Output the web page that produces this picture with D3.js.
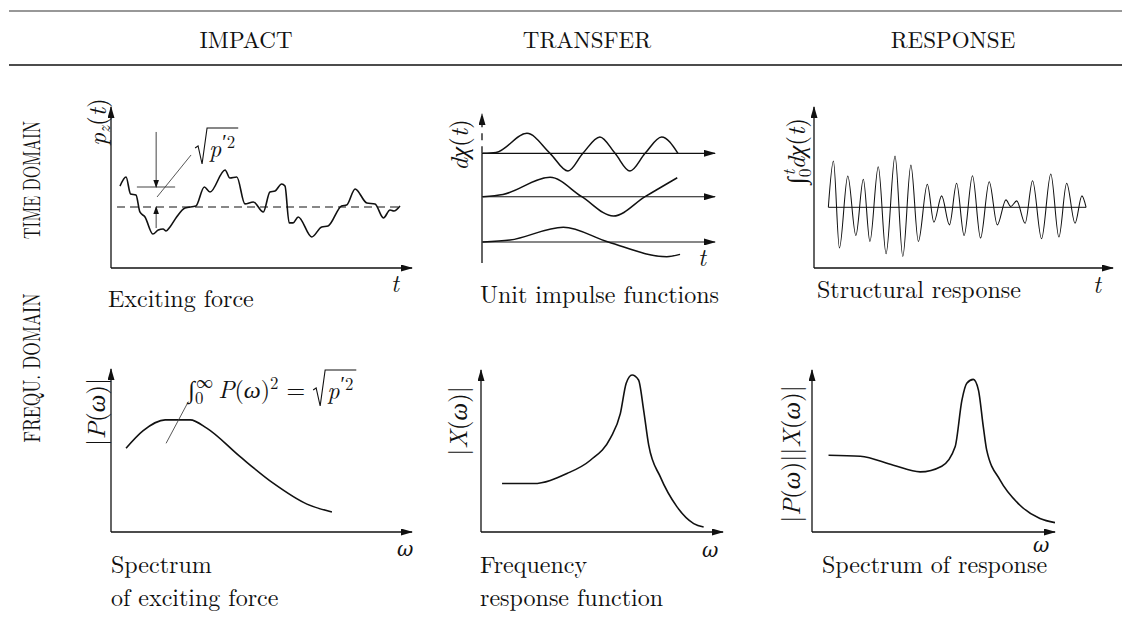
<!DOCTYPE html>
<html>
<head>
<meta charset="utf-8">
<script src="https://cdn.jsdelivr.net/npm/d3@7"></script>
<style>
  body { margin: 0; background: #fff; }
  svg { display: block; }
  text { font-family: "Latin Modern Roman", "CMU Serif", "Liberation Serif", "DejaVu Serif", serif; fill: #111; }
</style>
</head>
<body>
<div id="chart"></div>
<script>
// ---- data (schematic values, each panel in 0..10 units) ----
const columns = ["IMPACT", "TRANSFER", "RESPONSE"];
const rows = ["TIME DOMAIN", "FREQU. DOMAIN"];
const captions = [
  ["Exciting force"], ["Unit impulse functions"], ["Structural response"],
  ["Spectrum", "of exciting force"], ["Frequency", "response function"], ["Spectrum of response"]
];

// exciting force p_z(t)  [t, p]
const excitingForce = [
  [0.30,5.09],[0.50,5.65],[0.65,4.60],[0.83,4.53],[0.96,3.48],[1.13,3.17],[1.39,2.11],
  [1.57,2.36],[1.73,2.42],[1.83,2.30],[1.96,2.55],[2.18,3.17],[2.46,3.73],[2.82,3.85],
  [3.10,5.03],[3.29,4.72],[3.79,6.09],[3.95,5.59],[4.18,5.65],[4.45,3.98],[4.73,4.10],
  [5.06,3.48],[5.28,4.72],[5.45,4.78],[5.67,5.22],[5.78,5.09],[5.92,2.80],[6.05,2.80],
  [6.22,3.17],[6.67,1.93],[7.00,2.55],[7.21,2.61],[7.66,3.85],[7.83,3.91],[8.11,4.91],
  [8.50,4.04],[8.77,3.98],[9.05,3.11],[9.27,3.60],[9.40,3.54],[9.60,3.85]
];
const forceMean = 3.79;
const forceRms = 5.03;

// unit impulse functions, one baseline each
const impulseBaselines = [7.36, 4.45, 1.41];
const impulseFast = [[0.04,7.36],[0.6,7.42],[1.93,8.70],[2.92,7.36],[3.69,6.17],[4.33,7.36],[5.06,8.46],
  [5.71,7.36],[6.35,6.17],[7.00,7.36],[7.71,8.46],[8.41,7.36]];
const impulseMid = [[0.04,4.45],[0.9,4.60],[2.92,5.75],[4.28,4.45],[5.64,3.15],[7.00,4.45],[8.38,5.72]];
const impulseSlow = [[0.04,1.41],[1.2,1.54],[3.49,2.40],[5.42,1.41],[7.93,0.42],[8.50,0.58]];

// structural response (extrema of the oscillation)
const structResponse = [
  [0.48,3.77],[0.65,6.64],[0.85,1.24],[1.13,5.71],[1.40,2.02],[1.65,5.51],[1.87,1.65],[2.15,6.29],
  [2.41,0.89],[2.71,6.95],[2.97,0.72],[3.24,6.39],[3.49,1.65],[3.79,5.20],[4.01,2.85],[4.27,4.48],
  [4.53,2.68],[4.77,5.26],[5.02,2.02],[5.30,5.73],[5.57,1.86],[5.86,5.36],[6.13,2.68],[6.42,4.23],
  [6.58,3.82],[6.78,4.17],[7.06,2.78],[7.31,5.42],[7.61,1.82],[7.92,5.84],[8.19,1.92],[8.45,5.26],
  [8.73,2.78],[8.96,4.48],[9.10,3.77]
];
const responseMean = 3.77;

// spectra [omega, amplitude]
const forceSpectrum = [[0.50,5.14],[1.07,6.22],[1.80,6.88],[2.63,6.88],[3.18,6.37],[4.29,4.62],
  [5.40,2.98],[6.51,1.71],[7.34,1.23]];
const transferFn = [[0.87,2.99],[2.17,2.99],[3.55,3.61],[4.52,4.43],[5.34,5.78],[5.76,7.32],[6.00,9.18],
  [6.24,9.69],[6.51,9.38],[6.72,7.53],[6.93,5.36],[7.41,3.40],[8.10,1.55],[8.79,0.52],[9.20,0.31]];
const responseSpectrum = [[0.68,4.74],[1.99,4.68],[3.35,4.12],[4.45,3.71],[5.34,4.06],[5.89,5.26],
  [6.17,8.14],[6.37,9.18],[6.64,9.42],[6.85,8.76],[7.05,6.49],[7.19,5.05],[7.74,3.20],[8.56,1.65],
  [9.38,0.83],[10.0,0.58]];

// ---- drawing ----
const W = 1122, H = 621, FS = 24;
const svg = d3.select("#chart").append("svg").attr("width", W).attr("height", H);
const defs = svg.append("defs");

function marker(id, len, half) {
  defs.append("marker").attr("id", id)
    .attr("viewBox", `0 ${-half} ${len} ${2 * half}`)
    .attr("refX", len - 1).attr("refY", 0)
    .attr("markerWidth", len).attr("markerHeight", 2 * half)
    .attr("markerUnits", "userSpaceOnUse").attr("orient", "auto")
    .append("path").attr("d", `M0,${-half}L${len},0L0,${half}Z`).attr("fill", "#111");
}
marker("arr", 12, 3.5);
marker("arrS", 8, 2.8);

// table rules
svg.append("line").attr("x1", 9).attr("x2", W).attr("y1", 11).attr("y2", 11)
  .attr("stroke", "#333").attr("stroke-width", 1.2);
svg.append("line").attr("x1", 9).attr("x2", W).attr("y1", 65).attr("y2", 65)
  .attr("stroke", "#111").attr("stroke-width", 1.6);

const headerX = [246, 587, 953];
svg.selectAll(".hdr").data(columns).join("text").attr("class", "hdr")
  .attr("x", (d, i) => headerX[i]).attr("y", 48)
  .attr("text-anchor", "middle").style("font-size", "23px").text(d => d);

const rowY = [180, 368], rowLen = [118, 149];
svg.selectAll(".row").data(rows).join("text").attr("class", "row")
  .attr("transform", (d, i) => `translate(40,${rowY[i]}) rotate(-90)`)
  .attr("text-anchor", "middle").style("font-size", "24px")
  .attr("textLength", (d, i) => rowLen[i]).attr("lengthAdjust", "spacingAndGlyphs")
  .text(d => d);

// small math-text helper: parts = {t, it, sh (px up), sc (scale), dx, ff}
function addMath(text, parts, fs) {
  let cur = 0;
  parts.forEach(p => {
    const sh = p.sh || 0;
    const ts = text.append("tspan")
      .attr("dy", cur - sh)
      .attr("dx", p.dx || 0)
      .style("font-style", p.it ? "italic" : "normal")
      .style("font-size", (p.sc || 1) * fs + "px")
      .text(p.t);
    if (p.ff) ts.style("font-family", p.ff);
    cur = sh;
  });
  return text;
}

function frame(x0, x1, y0, y1) {
  return {
    x: d3.scaleLinear().domain([0, 10]).range([x0, x1]),
    y: d3.scaleLinear().domain([0, 10]).range([y0, y1]),
    g: svg.append("g")
  };
}

function seg(p, a, b, opts = {}) {
  return p.g.append("line")
    .attr("x1", p.x(a[0])).attr("y1", p.y(a[1]))
    .attr("x2", p.x(b[0])).attr("y2", p.y(b[1]))
    .attr("stroke", opts.color || "#111")
    .attr("stroke-width", opts.w || 1.3)
    .attr("stroke-dasharray", opts.dash || null)
    .attr("marker-end", opts.arrow ? `url(#${opts.arrow})` : null);
}

function axes(p) {
  seg(p, [0, 0], [10, 0], { arrow: "arr" });
  seg(p, [0, 0], [0, 10], { arrow: "arr" });
}

function curve(p, data, w = 1.6, c = d3.curveMonotoneX) {
  p.g.append("path").datum(data)
    .attr("fill", "none").attr("stroke", "#111").attr("stroke-width", w)
    .attr("stroke-linejoin", "round")
    .attr("d", d3.line().x(d => p.x(d[0])).y(d => p.y(d[1])).curve(c));
}

function yLabel(p, x, y, parts, fs = 25) {
  addMath(p.g.append("text").attr("transform", `translate(${x},${y}) rotate(-90)`)
    .attr("text-anchor", "middle").style("font-size", fs + "px"), parts, fs);
}

function axisName(p, x, y, s, greek) {
  p.g.append("text").attr("x", x).attr("y", y).style("font-style", "italic")
    .style("font-family", greek ? "'DejaVu Serif', serif" : null)
    .style("font-size", (greek ? 20 : FS) + "px").text(s);
}

function caption(p, x, y, lines) {
  lines.forEach((s, i) => p.g.append("text").attr("x", x).attr("y", y + i * 33)
    .style("font-size", FS + "px").text(s));
}

// sqrt(p'^2) with a drawn radical
function drawSqrt(g, x, base, fs) {
  const t = addMath(g.append("text").attr("x", x + 14).attr("y", base).style("font-size", fs + "px"),
    [{ t: "p", it: true }, { t: "′", sh: 8, sc: 0.85, dx: 1 }, { t: "2", sh: 9, sc: 0.7 }], fs);
  const w = t.node().getComputedTextLength();
  g.append("path")
    .attr("d", `M${x},${base - 9}L${x + 3},${base - 11}L${x + 7},${base + 7}L${x + 12},${base - 29}H${x + 18 + w}`)
    .attr("fill", "none").attr("stroke", "#111").attr("stroke-width", 1.1);
}

// --- impact / time
const p1 = frame(111, 412, 268, 107);
axes(p1);
curve(p1, excitingForce, 1.6);
seg(p1, [0.2, forceMean], [9.7, forceMean], { dash: "8,5", w: 1.1 });
seg(p1, [0.86, forceRms], [2.13, forceRms], { color: "#444", w: 1.1 });
seg(p1, [1.5, 8.45], [1.5, forceRms], { color: "#444", w: 1, arrow: "arrS" });
seg(p1, [1.5, 2.48], [1.5, forceMean], { color: "#444", w: 1, arrow: "arrS" });
seg(p1, [1.53, 4.41], [2.66, 7.02], { color: "#444", w: 0.9 });
drawSqrt(p1.g, p1.x(2.66) + 4, 157, FS);
yLabel(p1, 106, 122, [{ t: "p", it: true }, { t: "z", it: true, sh: -4, sc: 0.7 }, { t: "(" }, { t: "t", it: true }, { t: ")" }]);
axisName(p1, 391, 292, "t");
caption(p1, 108, 307, captions[0]);

// --- transfer / time
const p2 = frame(482, 715, 263, 114);
seg(p2, [0, 0], [0, impulseBaselines[0]]);
seg(p2, [0, impulseBaselines[0]], [0, 10], { dash: "7,6", arrow: "arr" });
impulseBaselines.forEach(b => seg(p2, [0, b], [10, b], { arrow: "arr", w: 1.1 }));
curve(p2, impulseFast, 1.5);
curve(p2, impulseMid, 1.5);
curve(p2, impulseSlow, 1.5);
yLabel(p2, 468, 145, [{ t: "dχ", it: true }, { t: "(" }, { t: "t", it: true }, { t: ")" }]);
axisName(p2, 698, 266, "t");
caption(p2, 480, 303, captions[1]);

// --- response / time
const p3 = frame(814, 1113, 268, 107);
axes(p3);
seg(p3, [0.48, responseMean], [9.10, responseMean], { w: 1 });
curve(p3, structResponse, 1.05);
yLabel(p3, 805, 151, [{ t: "∫" }, { t: "0", sh: -6, sc: 0.7 }, { t: "t", it: true, sh: 10, sc: 0.7, dx: -7 },
  { t: "dχ", it: true }, { t: "(" }, { t: "t", it: true }, { t: ")" }]);
axisName(p3, 1093, 293, "t");
caption(p3, 817, 298, captions[2]);

// --- impact / frequency
const p4 = frame(111, 412, 532, 369);
axes(p4);
curve(p4, forceSpectrum, 1.6);
seg(p4, [1.83, 5.44], [2.57, 8.0], { color: "#444", w: 0.9 });
const intLabel = addMath(p4.g.append("text").attr("x", p4.x(2.57)).attr("y", 398).style("font-size", FS + "px"),
  [{ t: "∫" }, { t: "0", sh: -6, sc: 0.7 }, { t: "∞", sh: 10, sc: 0.7, dx: -7 }, { t: "P", it: true, dx: 5 },
   { t: "(" }, { t: "ω", it: true }, { t: ")" }, { t: "2", sh: 9, sc: 0.7 }, { t: "=", dx: 8 }], FS);
const ib = intLabel.node().getBBox();
drawSqrt(p4.g, ib.x + ib.width + 8, 399, FS);
yLabel(p4, 105, 412, [{ t: "|" }, { t: "P", it: true }, { t: "(" }, { t: "ω", it: true }, { t: ")|" }]);
axisName(p4, 397, 556, "ω", true);
caption(p4, 111, 573, captions[3]);

// --- transfer / frequency
const p5 = frame(481, 723, 532, 370);
axes(p5);
curve(p5, transferFn, 1.6);
yLabel(p5, 467, 421, [{ t: "|" }, { t: "X", it: true }, { t: "(" }, { t: "ω", it: true }, { t: ")|" }]);
axisName(p5, 702, 557, "ω", true);
caption(p5, 480, 573, captions[4]);

// --- response / frequency
const p6 = frame(812, 1055, 532, 370);
axes(p6);
curve(p6, responseSpectrum, 1.6);
yLabel(p6, 800, 454, [{ t: "|" }, { t: "P", it: true }, { t: "(" }, { t: "ω", it: true }, { t: ")||" },
  { t: "X", it: true }, { t: "(" }, { t: "ω", it: true }, { t: ")|" }]);
axisName(p6, 1033, 552, "ω", true);
caption(p6, 822, 573, captions[5]);
</script>
</body>
</html>
